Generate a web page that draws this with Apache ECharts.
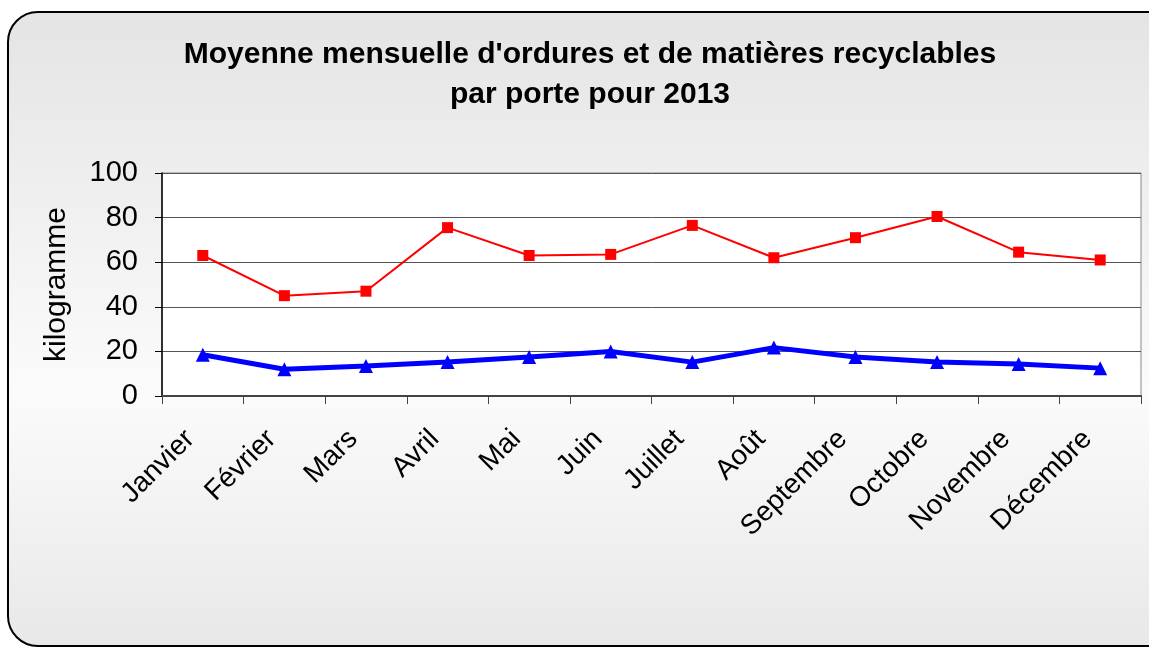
<!DOCTYPE html>
<html>
<head>
<meta charset="utf-8">
<script src="https://cdn.jsdelivr.net/npm/echarts@6/dist/echarts.min.js"></script>
<style>
html,body{margin:0;padding:0;background:#fff;}
#chart{width:1149px;height:648px;}
</style>
</head>
<body>
<div id="chart"></div>
<script>
var months = ['Janvier','Février','Mars','Avril','Mai','Juin','Juillet','Août','Septembre','Octobre','Novembre','Décembre'];
var ordures = [63, 45, 47, 75.5, 63, 63.5, 76.5, 62, 71, 80.5, 64.5, 61];
var recyclables = [18.5, 12, 13.5, 15.3, 17.5, 20, 15.2, 21.7, 17.5, 15.2, 14.3, 12.5];
var yTicks = [0, 20, 40, 60, 80, 100];

var font = 'Liberation Sans, Arial, sans-serif';

var chart = echarts.init(document.getElementById('chart'));
var option = {
    animation: false,
    graphic: [{
        type: 'rect',
        z: -10,
        shape: {x: 8, y: 12, width: 1200, height: 634, r: 30},
        style: {
            fill: new echarts.graphic.LinearGradient(0, 0, 0, 1, [
                {offset: 0, color: '#e4e4e4'},
                {offset: 0.6, color: '#fbfbfb'},
                {offset: 1, color: '#e8e8e8'}
            ]),
            stroke: '#000',
            lineWidth: 2
        }
    }],
    title: {
        text: "Moyenne mensuelle d'ordures et de matières recyclables\npar porte pour 2013",
        left: 585,
        textAlign: 'center',
        top: 30,
        textStyle: {fontFamily: font, fontWeight: 'bold', fontSize: 30, lineHeight: 40, color: '#000'}
    },
    grid: {left: 162, right: 8, top: 173, bottom: 252, show: true, backgroundColor: '#fff', borderColor: '#888', borderWidth: 1},
    xAxis: {
        type: 'category',
        data: months,
        boundaryGap: true,
        axisLine: {lineStyle: {color: '#444', width: 2}},
        axisTick: {show: true, length: 8, lineStyle: {color: '#444'}},
        axisLabel: {rotate: 45, margin: 26, padding: [0, 18, 0, 0], fontFamily: font, fontSize: 28, color: '#000'}
    },
    yAxis: {
        type: 'value',
        min: yTicks[0],
        max: yTicks[yTicks.length - 1],
        interval: 20,
        name: 'kilogramme',
        nameLocation: 'middle',
        nameGap: 90,
        nameTextStyle: {fontFamily: font, fontSize: 30, color: '#000'},
        axisLine: {show: true, lineStyle: {color: '#000', width: 1.5}},
        axisTick: {show: true, length: 7, lineStyle: {color: '#000'}},
        axisLabel: {margin: 24, fontFamily: font, fontSize: 29, color: '#000'},
        splitLine: {lineStyle: {color: '#555', width: 1}}
    },
    series: [{
        name: 'Ordures',
        type: 'line',
        data: ordures,
        symbol: 'rect',
        symbolSize: 11,
        lineStyle: {color: '#ff0000', width: 2},
        itemStyle: {color: '#ff0000'}
    }, {
        name: 'Matières recyclables',
        type: 'line',
        data: recyclables,
        symbol: 'triangle',
        symbolSize: 14,
        lineStyle: {color: '#0000ff', width: 5},
        itemStyle: {color: '#0000ff'}
    }]
};
chart.setOption(option);
</script>
</body>
</html>
